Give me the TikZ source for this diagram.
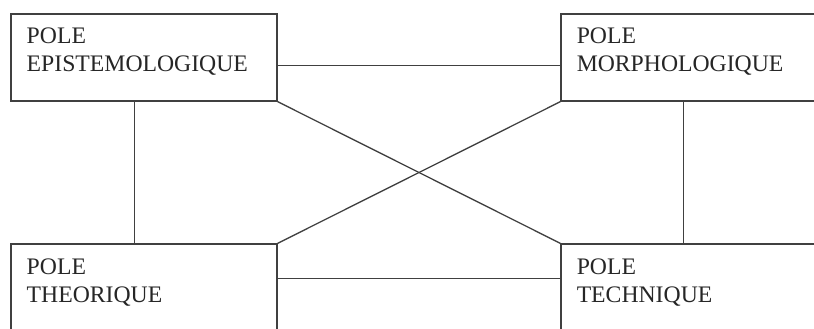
\documentclass[tikz,border=0pt]{standalone}
\usepackage{fontspec}
\setmainfont{Liberation Serif}
\usetikzlibrary{positioning}

\begin{document}
\begin{tikzpicture}[
  x=0.5pt,
  y=-0.5pt,
  pole/.style={draw=black!75, line width=0.65pt, minimum width=133pt, minimum height=43.5pt, inner sep=0pt},
  poletext/.style={anchor=north west, align=left, inner sep=0pt, text=black!85, font=\fontsize{11.85}{14.2}\selectfont},
  link/.style={draw=black!75, line width=0.65pt}
]
  \clip (0,0) rectangle (814,328);
  \fill[white] (0,0) rectangle (814,328);

  \node[pole] (epi) at (144, 57.5) {};
  \node[pole] (morph) at (694, 57.5) {};
  \node[pole] (theo) at (144, 287.5) {};
  \node[pole] (tech) at (694, 287.5) {};

  \node[poletext] (epiT) at ([xshift=8pt, yshift=-7pt]epi.north west) {POLE\\EPISTEMOLOGIQUE};
  \node[poletext] (morphT) at ([xshift=8pt, yshift=-7pt]morph.north west) {POLE\\MORPHOLOGIQUE};
  \node[poletext] (theoT) at ([xshift=8pt, yshift=-7.5pt]theo.north west) {POLE\\THEORIQUE};
  \node[poletext] (techT) at ([xshift=8pt, yshift=-7.5pt]tech.north west) {POLE\\TECHNIQUE};

  \draw[link] ([yshift=-26pt]epi.north east) -- ([yshift=-26pt]morph.north west);
  \draw[link] ([xshift=62pt]epi.south west) -- ([xshift=62pt]theo.north west);
  \draw[link] ([xshift=61.5pt]morph.south west) -- ([xshift=61.5pt]tech.north west);
  \draw[link] (epi.south east) -- (tech.north west);
  \draw[link] (morph.south west) -- (theo.north east);
  \draw[link] ([yshift=-17.5pt]theo.north east) -- ([yshift=-17.5pt]tech.north west);
\end{tikzpicture}
\end{document}
